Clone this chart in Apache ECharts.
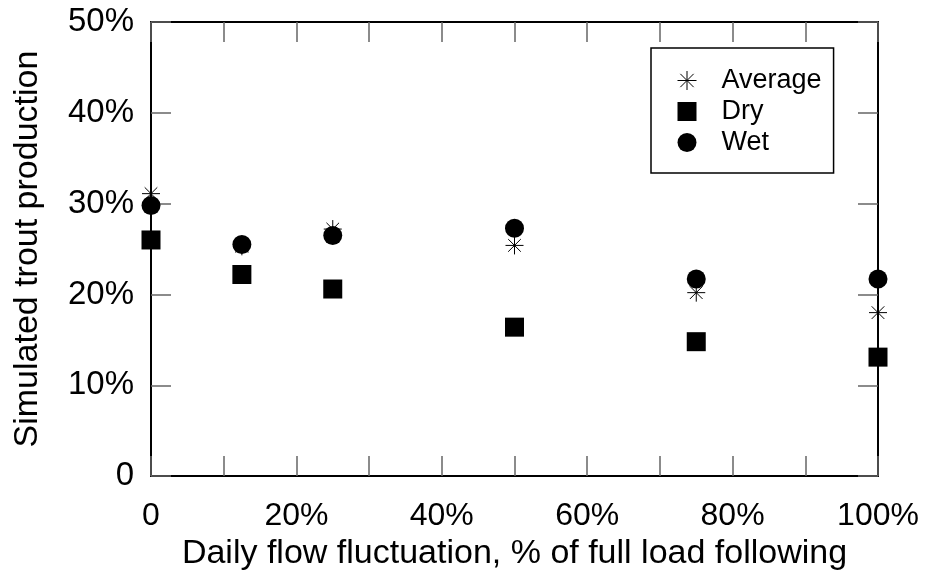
<!DOCTYPE html>
<html>
<head>
<meta charset="utf-8">
<script src="https://cdn.jsdelivr.net/npm/echarts@6/dist/echarts.min.js"></script>
<style>html,body{margin:0;padding:0;background:#fff}#c{width:929px;height:576px}</style>
</head>
<body>
<div id="c"></div>
<script>
var xValues = [0, 12.5, 25, 50, 75, 100];
var averageVals = [31.1, 25.3, 27.2, 25.4, 20.2, 18.0];
var dryVals = [26.0, 22.2, 20.6, 16.4, 14.8, 13.1];
var wetVals = [29.8, 25.5, 26.5, 27.3, 21.7, 21.7];
var xTickLabels = {0: '0', 20: '20%', 40: '40%', 60: '60%', 80: '80%', 100: '100%'};
var yTickLabels = {0: '0', 10: '10%', 20: '20%', 30: '30%', 40: '40%', 50: '50%'};

function pairs(vals) { return xValues.map(function (x, i) { return [x, vals[i]]; }); }

var FONT = 'Liberation Sans, Arial, sans-serif';
var starPath = 'path://M10,0L10,20M0,10L20,10M3,3L17,17M3,17L17,3';

var chart = echarts.init(document.getElementById('c'), null, {renderer: 'canvas'});
var axisLine = {show: true, onZero: false, lineStyle: {color: '#000', width: 2}};
var tick = {show: true, inside: true, length: 20, lineStyle: {color: '#666', width: 1.5}};
chart.setOption({
  animation: false,
  backgroundColor: '#fff',
  grid: {left: 151, right: 51, top: 22, bottom: 99, containLabel: false},
  legend: {
    left: 651, top: 48,
    orient: 'vertical',
    backgroundColor: '#fff',
    borderColor: '#000', borderWidth: 1.5,
    padding: [17, 12, 15, 24],
    itemWidth: 19, itemHeight: 19, itemGap: 0,
    textStyle: {fontFamily: FONT, fontSize: 27, lineHeight: 31, color: '#000', padding: [0, 0, 0, 20]},
    data: [
      {name: 'Average', icon: starPath, itemStyle: {color: 'none', borderColor: '#000', borderWidth: 1}},
      {name: 'Dry', icon: 'rect'},
      {name: 'Wet', icon: 'circle'}
    ]
  },
  xAxis: [{
    type: 'value', min: 0, max: 100, interval: 10, position: 'bottom',
    axisLine: axisLine, axisTick: tick, splitLine: {show: false},
    axisLabel: {fontFamily: FONT, fontSize: 32, color: '#000', margin: 24,
      formatter: function (v) { return xTickLabels[v] !== undefined ? xTickLabels[v] : ''; }},
    name: 'Daily flow fluctuation, % of full load following',
    nameLocation: 'middle', nameGap: 59,
    nameTextStyle: {fontFamily: FONT, fontSize: 34, color: '#000'}
  }, {
    type: 'value', min: 0, max: 100, interval: 10, position: 'top',
    axisLine: axisLine, axisTick: tick, axisLabel: {show: false}, splitLine: {show: false}
  }],
  yAxis: [{
    type: 'value', min: 0, max: 50, interval: 10, position: 'left',
    axisLine: axisLine, axisTick: tick, splitLine: {show: false},
    axisLabel: {fontFamily: FONT, fontSize: 33, color: '#000', margin: 17,
      formatter: function (v) { return yTickLabels[v] !== undefined ? yTickLabels[v] : ''; }},
    name: 'Simulated trout production',
    nameLocation: 'middle', nameGap: 106, nameRotate: 90,
    nameTextStyle: {fontFamily: FONT, fontSize: 34, color: '#000'}
  }, {
    type: 'value', min: 0, max: 50, interval: 10, position: 'right',
    axisLine: axisLine, axisTick: tick, axisLabel: {show: false}, splitLine: {show: false}
  }],
  series: [
    {name: 'Dry', type: 'scatter', data: pairs(dryVals), symbol: 'rect', symbolSize: 19,
     itemStyle: {color: '#000', opacity: 1}, z: 3},
    {name: 'Wet', type: 'scatter', data: pairs(wetVals), symbol: 'circle', symbolSize: 19,
     itemStyle: {color: '#000', opacity: 1}, z: 4},
    {name: 'Average', type: 'scatter', data: pairs(averageVals), symbol: starPath, symbolSize: 18,
     itemStyle: {color: 'none', borderColor: '#000', borderWidth: 1, opacity: 1}, z: 2}
  ]
});
</script>
</body>
</html>
